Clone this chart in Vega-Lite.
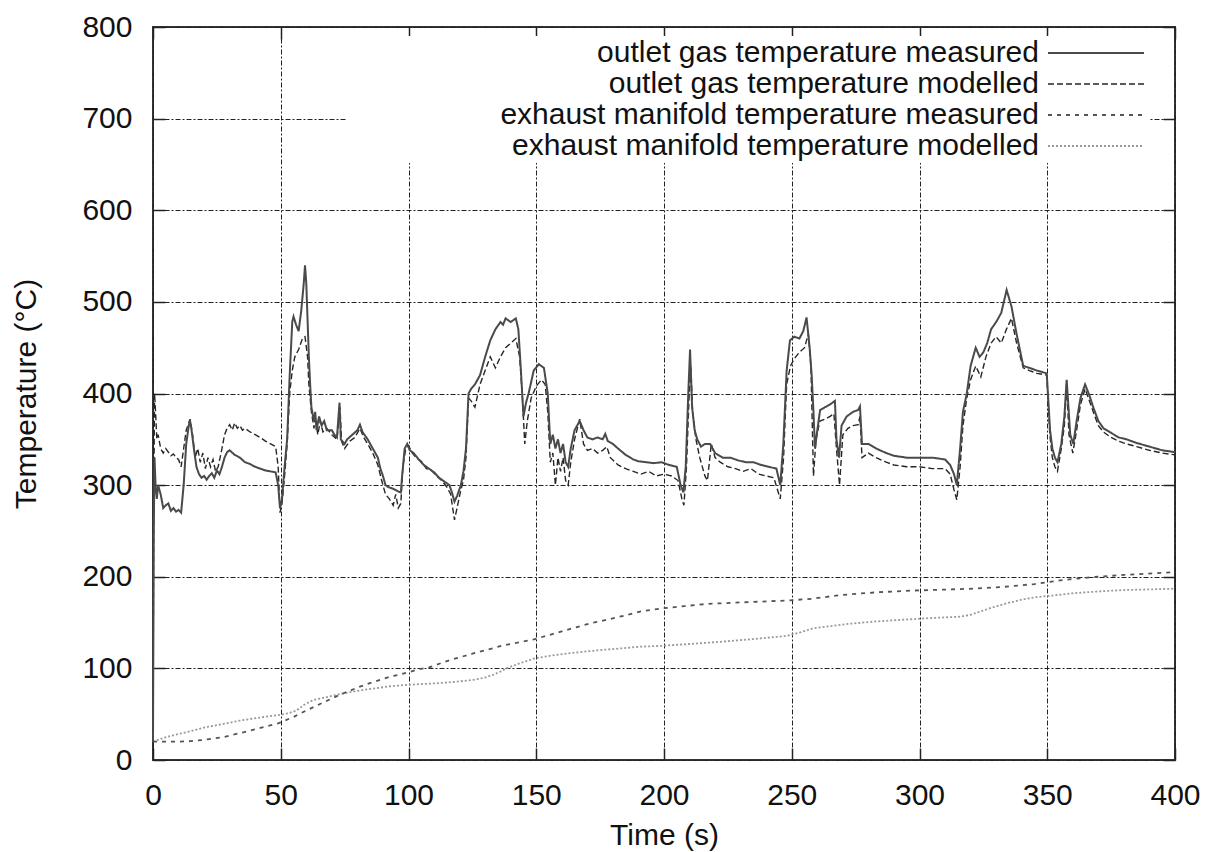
{
  "$schema": "https://vega.github.io/schema/vega-lite/v6.json",
  "width": 1022,
  "height": 733,
  "autosize": {"type": "none"},
  "padding": {"left": 153, "top": 27, "right": 34, "bottom": 92},
  "background": "white",
  "config": {
    "font": "Liberation Sans",
    "view": {"stroke": "#333", "strokeWidth": 2},
    "legend": {
      "orient": "none",
      "legendX": 194,
      "legendY": 9,
      "fillColor": "white",
      "padding": 2,
      "labelFont": "Liberation Sans",
      "labelFontSize": 30,
      "labelColor": "#111",
      "labelAlign": "right",
      "labelOffset": -72,
      "labelLimit": 1000,
      "symbolOffset": 732,
      "symbolSize": 576,
      "rowPadding": 1
    }
  },
  "datasets": {
    "temps": [
      {"s":"ed","t":0,"v":20},{"s":"ed","t":4,"v":24},{"s":"ed","t":8,"v":27},{"s":"ed","t":14,"v":31},{"s":"ed","t":21,"v":36},{"s":"ed","t":27,"v":39},{"s":"ed","t":34,"v":43},{"s":"ed","t":41,"v":46},{"s":"ed","t":49,"v":49},{"s":"ed","t":53,"v":51},{"s":"ed","t":56.2,"v":54},{"s":"ed","t":59,"v":60},{"s":"ed","t":62.7,"v":65.5},{"s":"ed","t":67,"v":68},{"s":"ed","t":73.2,"v":72},{"s":"ed","t":80,"v":75.5},{"s":"ed","t":86.2,"v":78},{"s":"ed","t":93,"v":80.5},{"s":"ed","t":99.3,"v":82},{"s":"ed","t":106,"v":83},{"s":"ed","t":112.3,"v":84},{"s":"ed","t":119,"v":85.5},{"s":"ed","t":125.4,"v":87.5},{"s":"ed","t":130,"v":90},{"s":"ed","t":133.2,"v":93},{"s":"ed","t":136,"v":96.5},{"s":"ed","t":138.4,"v":100},{"s":"ed","t":143,"v":105},{"s":"ed","t":149.5,"v":111},{"s":"ed","t":156,"v":114},{"s":"ed","t":164.5,"v":117},{"s":"ed","t":175,"v":120},{"s":"ed","t":184.1,"v":122},{"s":"ed","t":190.6,"v":123.7},{"s":"ed","t":198.4,"v":124.5},{"s":"ed","t":210,"v":126.6},{"s":"ed","t":222,"v":129},{"s":"ed","t":235,"v":132},{"s":"ed","t":248,"v":135.4},{"s":"ed","t":253,"v":139},{"s":"ed","t":258.4,"v":143.8},{"s":"ed","t":265,"v":146},{"s":"ed","t":272,"v":148.5},{"s":"ed","t":281.9,"v":151},{"s":"ed","t":290,"v":152.5},{"s":"ed","t":296.3,"v":153.6},{"s":"ed","t":305,"v":155},{"s":"ed","t":315.9,"v":156.4},{"s":"ed","t":320,"v":158.5},{"s":"ed","t":323.7,"v":162},{"s":"ed","t":328,"v":166},{"s":"ed","t":334.1,"v":171},{"s":"ed","t":340,"v":175},{"s":"ed","t":345.2,"v":177.6},{"s":"ed","t":352,"v":179.5},{"s":"ed","t":360.2,"v":182},{"s":"ed","t":370,"v":184},{"s":"ed","t":380,"v":185.5},{"s":"ed","t":392.8,"v":186.4},{"s":"ed","t":400,"v":187},
      {"s":"em","t":0,"v":20},{"s":"em","t":5,"v":20},{"s":"em","t":10,"v":20},{"s":"em","t":14.5,"v":20.5},{"s":"em","t":20,"v":22},{"s":"em","t":27.5,"v":25},{"s":"em","t":35,"v":30},{"s":"em","t":42,"v":35},{"s":"em","t":49,"v":40},{"s":"em","t":55,"v":47},{"s":"em","t":60,"v":54},{"s":"em","t":66,"v":62},{"s":"em","t":73,"v":71},{"s":"em","t":80,"v":79},{"s":"em","t":86,"v":85},{"s":"em","t":93,"v":91},{"s":"em","t":99,"v":95},{"s":"em","t":104,"v":99},{"s":"em","t":108,"v":101},{"s":"em","t":115,"v":108},{"s":"em","t":125,"v":116},{"s":"em","t":137,"v":125},{"s":"em","t":149.5,"v":132},{"s":"em","t":157,"v":138},{"s":"em","t":164.5,"v":144},{"s":"em","t":171,"v":149},{"s":"em","t":177.6,"v":153},{"s":"em","t":185,"v":158},{"s":"em","t":190.6,"v":162},{"s":"em","t":199.7,"v":165.6},{"s":"em","t":208,"v":168},{"s":"em","t":216.7,"v":170.3},{"s":"em","t":230,"v":172},{"s":"em","t":248,"v":174},{"s":"em","t":258,"v":176},{"s":"em","t":268.9,"v":180},{"s":"em","t":283,"v":183},{"s":"em","t":296.3,"v":184.8},{"s":"em","t":310,"v":186},{"s":"em","t":321,"v":187},{"s":"em","t":333,"v":189},{"s":"em","t":345,"v":192},{"s":"em","t":355,"v":196},{"s":"em","t":366.7,"v":199.4},{"s":"em","t":380,"v":202},{"s":"em","t":392.8,"v":204},{"s":"em","t":400,"v":205},
      {"s":"od","t":0,"v":20},{"s":"od","t":0.3,"v":280},{"s":"od","t":0.6,"v":400},{"s":"od","t":1,"v":380},{"s":"od","t":1.5,"v":350},{"s":"od","t":2,"v":355},{"s":"od","t":3,"v":340},{"s":"od","t":4,"v":335},{"s":"od","t":5,"v":340},{"s":"od","t":6,"v":336},{"s":"od","t":7,"v":332},{"s":"od","t":8,"v":334},{"s":"od","t":9,"v":330},{"s":"od","t":10,"v":328},{"s":"od","t":11,"v":320},{"s":"od","t":12,"v":340},{"s":"od","t":13,"v":360},{"s":"od","t":14.5,"v":372},{"s":"od","t":15.5,"v":355},{"s":"od","t":16.5,"v":330},{"s":"od","t":17.5,"v":340},{"s":"od","t":18.5,"v":325},{"s":"od","t":19.5,"v":335},{"s":"od","t":20.5,"v":318},{"s":"od","t":21.5,"v":330},{"s":"od","t":22.5,"v":320},{"s":"od","t":23.5,"v":328},{"s":"od","t":24.5,"v":315},{"s":"od","t":25.5,"v":320},{"s":"od","t":27,"v":340},{"s":"od","t":28,"v":355},{"s":"od","t":29,"v":362},{"s":"od","t":30,"v":366},{"s":"od","t":31,"v":360},{"s":"od","t":32,"v":368},{"s":"od","t":33,"v":362},{"s":"od","t":34,"v":365},{"s":"od","t":35,"v":360},{"s":"od","t":36,"v":362},{"s":"od","t":38,"v":358},{"s":"od","t":40,"v":355},{"s":"od","t":42,"v":352},{"s":"od","t":44,"v":348},{"s":"od","t":46,"v":345},{"s":"od","t":48,"v":342},{"s":"od","t":49,"v":320},{"s":"od","t":49.7,"v":270},{"s":"od","t":50.5,"v":280},{"s":"od","t":51.5,"v":310},{"s":"od","t":52.5,"v":345},{"s":"od","t":53.5,"v":400},{"s":"od","t":54.5,"v":425},{"s":"od","t":55.5,"v":440},{"s":"od","t":57,"v":448},{"s":"od","t":58.5,"v":460},{"s":"od","t":59.5,"v":462},{"s":"od","t":60.5,"v":440},{"s":"od","t":61,"v":410},{"s":"od","t":62,"v":380},{"s":"od","t":63,"v":362},{"s":"od","t":63.5,"v":375},{"s":"od","t":64.5,"v":355},{"s":"od","t":65.5,"v":370},{"s":"od","t":66.5,"v":358},{"s":"od","t":68,"v":362},{"s":"od","t":70,"v":355},{"s":"od","t":72,"v":350},{"s":"od","t":73.2,"v":385},{"s":"od","t":73.8,"v":348},{"s":"od","t":75,"v":340},{"s":"od","t":77,"v":348},{"s":"od","t":79,"v":352},{"s":"od","t":81,"v":362},{"s":"od","t":82.5,"v":352},{"s":"od","t":84,"v":345},{"s":"od","t":86,"v":335},{"s":"od","t":88,"v":322},{"s":"od","t":89.5,"v":305},{"s":"od","t":91,"v":290},{"s":"od","t":92.5,"v":285},{"s":"od","t":94,"v":278},{"s":"od","t":95,"v":290},{"s":"od","t":96,"v":275},{"s":"od","t":97,"v":280},{"s":"od","t":97.8,"v":320},{"s":"od","t":98.8,"v":338},{"s":"od","t":100,"v":343},{"s":"od","t":101.5,"v":335},{"s":"od","t":103,"v":330},{"s":"od","t":105,"v":326},{"s":"od","t":107,"v":318},{"s":"od","t":109,"v":316},{"s":"od","t":111,"v":310},{"s":"od","t":113,"v":305},{"s":"od","t":115,"v":298},{"s":"od","t":116.5,"v":290},{"s":"od","t":118,"v":262},{"s":"od","t":119,"v":275},{"s":"od","t":120.5,"v":295},{"s":"od","t":121.5,"v":305},{"s":"od","t":122.5,"v":330},{"s":"od","t":123.5,"v":395},{"s":"od","t":124.5,"v":392},{"s":"od","t":126,"v":385},{"s":"od","t":128,"v":410},{"s":"od","t":130,"v":425},{"s":"od","t":132,"v":440},{"s":"od","t":134,"v":428},{"s":"od","t":136,"v":440},{"s":"od","t":138,"v":450},{"s":"od","t":140,"v":455},{"s":"od","t":142,"v":460},{"s":"od","t":143.5,"v":440},{"s":"od","t":144.5,"v":400},{"s":"od","t":145.5,"v":345},{"s":"od","t":146.5,"v":370},{"s":"od","t":148,"v":395},{"s":"od","t":150,"v":408},{"s":"od","t":152,"v":415},{"s":"od","t":153.5,"v":410},{"s":"od","t":154.5,"v":380},{"s":"od","t":155.5,"v":325},{"s":"od","t":156.5,"v":335},{"s":"od","t":157.5,"v":300},{"s":"od","t":158.5,"v":330},{"s":"od","t":159.5,"v":315},{"s":"od","t":160.5,"v":330},{"s":"od","t":161.5,"v":305},{"s":"od","t":162.5,"v":300},{"s":"od","t":163.5,"v":325},{"s":"od","t":165,"v":350},{"s":"od","t":167,"v":372},{"s":"od","t":168.5,"v":345},{"s":"od","t":170,"v":338},{"s":"od","t":172,"v":340},{"s":"od","t":174,"v":335},{"s":"od","t":176,"v":338},{"s":"od","t":177.6,"v":342},{"s":"od","t":179,"v":330},{"s":"od","t":182,"v":322},{"s":"od","t":185,"v":318},{"s":"od","t":188,"v":315},{"s":"od","t":191,"v":312},{"s":"od","t":194,"v":315},{"s":"od","t":197,"v":310},{"s":"od","t":200,"v":312},{"s":"od","t":203,"v":310},{"s":"od","t":205.5,"v":305},{"s":"od","t":207,"v":285},{"s":"od","t":207.8,"v":278},{"s":"od","t":208.8,"v":320},{"s":"od","t":209.8,"v":395},{"s":"od","t":210.5,"v":430},{"s":"od","t":211.2,"v":380},{"s":"od","t":212.5,"v":350},{"s":"od","t":214,"v":330},{"s":"od","t":216,"v":310},{"s":"od","t":217,"v":305},{"s":"od","t":218.5,"v":345},{"s":"od","t":220,"v":330},{"s":"od","t":222,"v":325},{"s":"od","t":225,"v":320},{"s":"od","t":228,"v":318},{"s":"od","t":231,"v":315},{"s":"od","t":234,"v":318},{"s":"od","t":237,"v":312},{"s":"od","t":240,"v":310},{"s":"od","t":243,"v":308},{"s":"od","t":245.5,"v":285},{"s":"od","t":246.8,"v":330},{"s":"od","t":248,"v":410},{"s":"od","t":249.5,"v":430},{"s":"od","t":251,"v":438},{"s":"od","t":253,"v":445},{"s":"od","t":255,"v":450},{"s":"od","t":256.5,"v":465},{"s":"od","t":257.5,"v":430},{"s":"od","t":258,"v":370},{"s":"od","t":258.5,"v":310},{"s":"od","t":259.5,"v":350},{"s":"od","t":261,"v":370},{"s":"od","t":263,"v":372},{"s":"od","t":265,"v":375},{"s":"od","t":266.5,"v":378},{"s":"od","t":267.5,"v":340},{"s":"od","t":268.7,"v":300},{"s":"od","t":270,"v":355},{"s":"od","t":272,"v":362},{"s":"od","t":274,"v":365},{"s":"od","t":276,"v":366},{"s":"od","t":276.7,"v":375},{"s":"od","t":277.5,"v":330},{"s":"od","t":280,"v":335},{"s":"od","t":283,"v":330},{"s":"od","t":287,"v":325},{"s":"od","t":290,"v":322},{"s":"od","t":295,"v":320},{"s":"od","t":300,"v":320},{"s":"od","t":305,"v":318},{"s":"od","t":310,"v":318},{"s":"od","t":312,"v":312},{"s":"od","t":313.5,"v":295},{"s":"od","t":314.6,"v":284},{"s":"od","t":315.9,"v":320},{"s":"od","t":317,"v":365},{"s":"od","t":318.5,"v":395},{"s":"od","t":320,"v":415},{"s":"od","t":322,"v":430},{"s":"od","t":324,"v":418},{"s":"od","t":326,"v":440},{"s":"od","t":328,"v":455},{"s":"od","t":330,"v":462},{"s":"od","t":332,"v":455},{"s":"od","t":334,"v":470},{"s":"od","t":336,"v":482},{"s":"od","t":338,"v":455},{"s":"od","t":340.6,"v":428},{"s":"od","t":343,"v":425},{"s":"od","t":346,"v":422},{"s":"od","t":349.8,"v":420},{"s":"od","t":351,"v":355},{"s":"od","t":352,"v":330},{"s":"od","t":353,"v":320},{"s":"od","t":354,"v":315},{"s":"od","t":355.5,"v":340},{"s":"od","t":356.7,"v":365},{"s":"od","t":357.6,"v":410},{"s":"od","t":358.5,"v":355},{"s":"od","t":360,"v":335},{"s":"od","t":361.5,"v":360},{"s":"od","t":363,"v":388},{"s":"od","t":364.8,"v":405},{"s":"od","t":366.5,"v":392},{"s":"od","t":368,"v":380},{"s":"od","t":370,"v":365},{"s":"od","t":372,"v":358},{"s":"od","t":375,"v":352},{"s":"od","t":378,"v":348},{"s":"od","t":381,"v":345},{"s":"od","t":385,"v":342},{"s":"od","t":390,"v":338},{"s":"od","t":395,"v":335},{"s":"od","t":400,"v":333},
      {"s":"om","t":0,"v":20},{"s":"om","t":0.3,"v":250},{"s":"om","t":0.6,"v":330},{"s":"om","t":1,"v":300},{"s":"om","t":1.5,"v":285},{"s":"om","t":2,"v":300},{"s":"om","t":3,"v":290},{"s":"om","t":4,"v":275},{"s":"om","t":5,"v":278},{"s":"om","t":6,"v":280},{"s":"om","t":7,"v":272},{"s":"om","t":8,"v":275},{"s":"om","t":9,"v":271},{"s":"om","t":10,"v":273},{"s":"om","t":11,"v":270},{"s":"om","t":12,"v":300},{"s":"om","t":13,"v":345},{"s":"om","t":14,"v":365},{"s":"om","t":14.5,"v":370},{"s":"om","t":15,"v":362},{"s":"om","t":16,"v":340},{"s":"om","t":17,"v":320},{"s":"om","t":18,"v":312},{"s":"om","t":19,"v":308},{"s":"om","t":20,"v":310},{"s":"om","t":21,"v":306},{"s":"om","t":22,"v":310},{"s":"om","t":23,"v":313},{"s":"om","t":24,"v":308},{"s":"om","t":25,"v":316},{"s":"om","t":26,"v":312},{"s":"om","t":27,"v":320},{"s":"om","t":28,"v":330},{"s":"om","t":29,"v":336},{"s":"om","t":30,"v":338},{"s":"om","t":32,"v":333},{"s":"om","t":34,"v":330},{"s":"om","t":36,"v":325},{"s":"om","t":38,"v":323},{"s":"om","t":40,"v":320},{"s":"om","t":42,"v":318},{"s":"om","t":44,"v":316},{"s":"om","t":46,"v":315},{"s":"om","t":48,"v":314},{"s":"om","t":49,"v":300},{"s":"om","t":49.7,"v":275},{"s":"om","t":50.5,"v":285},{"s":"om","t":51.5,"v":320},{"s":"om","t":52.5,"v":350},{"s":"om","t":53.5,"v":420},{"s":"om","t":54.5,"v":478},{"s":"om","t":55,"v":484},{"s":"om","t":56,"v":475},{"s":"om","t":57,"v":468},{"s":"om","t":58,"v":490},{"s":"om","t":59,"v":520},{"s":"om","t":59.5,"v":540},{"s":"om","t":60,"v":520},{"s":"om","t":60.5,"v":480},{"s":"om","t":61,"v":440},{"s":"om","t":61.5,"v":410},{"s":"om","t":62,"v":385},{"s":"om","t":63,"v":370},{"s":"om","t":63.5,"v":380},{"s":"om","t":64,"v":360},{"s":"om","t":65,"v":375},{"s":"om","t":66,"v":365},{"s":"om","t":67,"v":370},{"s":"om","t":68,"v":360},{"s":"om","t":70,"v":360},{"s":"om","t":71,"v":355},{"s":"om","t":72,"v":352},{"s":"om","t":73,"v":390},{"s":"om","t":73.5,"v":350},{"s":"om","t":75,"v":345},{"s":"om","t":76,"v":350},{"s":"om","t":78,"v":355},{"s":"om","t":80,"v":360},{"s":"om","t":81,"v":366},{"s":"om","t":82,"v":358},{"s":"om","t":84,"v":350},{"s":"om","t":86,"v":340},{"s":"om","t":88,"v":330},{"s":"om","t":89,"v":318},{"s":"om","t":90,"v":310},{"s":"om","t":91,"v":300},{"s":"om","t":92,"v":298},{"s":"om","t":94,"v":296},{"s":"om","t":96,"v":293},{"s":"om","t":97,"v":292},{"s":"om","t":97.5,"v":310},{"s":"om","t":98.5,"v":340},{"s":"om","t":99.5,"v":345},{"s":"om","t":100.5,"v":338},{"s":"om","t":102,"v":335},{"s":"om","t":104,"v":328},{"s":"om","t":106,"v":322},{"s":"om","t":108,"v":318},{"s":"om","t":110,"v":314},{"s":"om","t":112,"v":308},{"s":"om","t":114,"v":304},{"s":"om","t":116,"v":300},{"s":"om","t":117,"v":292},{"s":"om","t":118,"v":282},{"s":"om","t":119,"v":288},{"s":"om","t":120.5,"v":300},{"s":"om","t":121.5,"v":315},{"s":"om","t":122.5,"v":340},{"s":"om","t":123.5,"v":400},{"s":"om","t":124.5,"v":405},{"s":"om","t":126,"v":410},{"s":"om","t":128,"v":420},{"s":"om","t":130,"v":440},{"s":"om","t":132,"v":458},{"s":"om","t":134,"v":470},{"s":"om","t":136,"v":478},{"s":"om","t":137,"v":475},{"s":"om","t":138,"v":482},{"s":"om","t":140,"v":478},{"s":"om","t":142,"v":482},{"s":"om","t":143,"v":470},{"s":"om","t":144,"v":425},{"s":"om","t":145,"v":375},{"s":"om","t":146,"v":390},{"s":"om","t":147,"v":400},{"s":"om","t":149,"v":425},{"s":"om","t":151,"v":432},{"s":"om","t":153,"v":428},{"s":"om","t":154.5,"v":400},{"s":"om","t":155.5,"v":345},{"s":"om","t":156.5,"v":355},{"s":"om","t":157.5,"v":340},{"s":"om","t":158.5,"v":350},{"s":"om","t":159.5,"v":335},{"s":"om","t":160.5,"v":345},{"s":"om","t":161.5,"v":325},{"s":"om","t":162.5,"v":320},{"s":"om","t":163.5,"v":340},{"s":"om","t":165,"v":360},{"s":"om","t":167,"v":370},{"s":"om","t":168.5,"v":360},{"s":"om","t":170,"v":352},{"s":"om","t":172,"v":350},{"s":"om","t":174,"v":352},{"s":"om","t":176,"v":350},{"s":"om","t":177,"v":356},{"s":"om","t":178,"v":348},{"s":"om","t":180,"v":345},{"s":"om","t":182,"v":340},{"s":"om","t":185,"v":333},{"s":"om","t":188,"v":328},{"s":"om","t":190,"v":326},{"s":"om","t":193,"v":325},{"s":"om","t":196,"v":324},{"s":"om","t":199,"v":325},{"s":"om","t":202,"v":322},{"s":"om","t":205,"v":320},{"s":"om","t":206.5,"v":300},{"s":"om","t":207.6,"v":292},{"s":"om","t":208.5,"v":320},{"s":"om","t":209.5,"v":400},{"s":"om","t":210.2,"v":448},{"s":"om","t":211,"v":385},{"s":"om","t":212,"v":360},{"s":"om","t":213,"v":350},{"s":"om","t":214.5,"v":342},{"s":"om","t":216,"v":345},{"s":"om","t":218,"v":345},{"s":"om","t":220,"v":335},{"s":"om","t":223,"v":330},{"s":"om","t":226,"v":330},{"s":"om","t":229,"v":327},{"s":"om","t":232,"v":325},{"s":"om","t":235,"v":325},{"s":"om","t":238,"v":322},{"s":"om","t":241,"v":320},{"s":"om","t":244,"v":318},{"s":"om","t":245.5,"v":300},{"s":"om","t":246.7,"v":345},{"s":"om","t":248,"v":425},{"s":"om","t":249.3,"v":458},{"s":"om","t":251,"v":462},{"s":"om","t":253,"v":460},{"s":"om","t":254.5,"v":468},{"s":"om","t":255.8,"v":483},{"s":"om","t":257,"v":450},{"s":"om","t":257.8,"v":420},{"s":"om","t":258.5,"v":380},{"s":"om","t":259.1,"v":340},{"s":"om","t":260,"v":360},{"s":"om","t":261.1,"v":382},{"s":"om","t":263,"v":385},{"s":"om","t":265,"v":388},{"s":"om","t":266.9,"v":392},{"s":"om","t":267.5,"v":350},{"s":"om","t":268.5,"v":330},{"s":"om","t":269.5,"v":365},{"s":"om","t":271.5,"v":375},{"s":"om","t":274,"v":380},{"s":"om","t":276,"v":382},{"s":"om","t":276.7,"v":386},{"s":"om","t":277.5,"v":345},{"s":"om","t":280,"v":345},{"s":"om","t":283,"v":340},{"s":"om","t":287,"v":335},{"s":"om","t":290,"v":332},{"s":"om","t":295,"v":330},{"s":"om","t":300,"v":330},{"s":"om","t":305,"v":330},{"s":"om","t":310,"v":328},{"s":"om","t":312,"v":322},{"s":"om","t":313.5,"v":312},{"s":"om","t":314.6,"v":300},{"s":"om","t":315.9,"v":340},{"s":"om","t":317,"v":380},{"s":"om","t":318.5,"v":400},{"s":"om","t":320,"v":430},{"s":"om","t":322,"v":450},{"s":"om","t":323.5,"v":440},{"s":"om","t":325,"v":445},{"s":"om","t":326.5,"v":455},{"s":"om","t":328,"v":470},{"s":"om","t":330,"v":478},{"s":"om","t":332,"v":488},{"s":"om","t":334.1,"v":513},{"s":"om","t":336,"v":495},{"s":"om","t":338,"v":465},{"s":"om","t":340.6,"v":430},{"s":"om","t":343,"v":428},{"s":"om","t":346,"v":425},{"s":"om","t":349.8,"v":422},{"s":"om","t":351.1,"v":360},{"s":"om","t":352,"v":340},{"s":"om","t":353,"v":330},{"s":"om","t":354,"v":325},{"s":"om","t":355.5,"v":345},{"s":"om","t":356.7,"v":375},{"s":"om","t":357.6,"v":415},{"s":"om","t":359,"v":355},{"s":"om","t":360.2,"v":345},{"s":"om","t":361.5,"v":370},{"s":"om","t":363,"v":395},{"s":"om","t":364.8,"v":410},{"s":"om","t":366.5,"v":398},{"s":"om","t":368,"v":385},{"s":"om","t":370,"v":370},{"s":"om","t":372,"v":362},{"s":"om","t":375,"v":357},{"s":"om","t":378,"v":352},{"s":"om","t":381,"v":350},{"s":"om","t":385,"v":346},{"s":"om","t":390,"v":342},{"s":"om","t":395,"v":338},{"s":"om","t":400,"v":336}
    ]
  },
  "data": {"name": "temps"},
  "resolve": {"axis": {"x": "independent", "y": "independent"}},
  "layer": [
    {
      "description": "inward ticks mirrored on the top and right edges of the frame",
      "mark": {"type": "line", "strokeOpacity": 0},
      "encoding": {
        "x": {"field": "t", "type": "quantitative", "scale": {"domain": [0, 400], "nice": false},
          "axis": {"orient": "top", "title": null, "labels": false, "grid": false, "values": [0, 50, 100, 150, 200, 250, 300, 350, 400], "offset": -12, "tickSize": 12, "tickColor": "#222", "tickWidth": 1.5, "domain": false}},
        "y": {"field": "v", "type": "quantitative", "scale": {"domain": [0, 800], "nice": false},
          "axis": {"orient": "right", "title": null, "labels": false, "grid": false, "values": [0, 100, 200, 300, 400, 500, 600, 700, 800], "offset": -12, "tickSize": 12, "tickColor": "#222", "tickWidth": 1.5, "domain": false}},
        "detail": {"field": "s", "type": "nominal"}
      }
    },
    {
      "mark": {"type": "line"},
      "encoding": {
        "x": {"field": "t", "type": "quantitative",
          "axis": {"title": "Time (s)", "values": [0, 50, 100, 150, 200, 250, 300, 350, 400], "grid": true, "gridColor": "#222", "gridDash": [5, 2, 2, 2], "gridWidth": 1, "offset": -12, "ticks": true, "tickSize": 12, "tickColor": "#222", "tickWidth": 1.5, "domain": false, "labelFlush": false, "labelOverlap": false, "labelPadding": 20, "labelFontSize": 30, "labelColor": "#111", "titleFontSize": 30, "titleFontWeight": "normal", "titleColor": "#111", "titlePadding": 10}},
        "y": {"field": "v", "type": "quantitative",
          "axis": {"title": "Temperature (°C)", "values": [0, 100, 200, 300, 400, 500, 600, 700, 800], "grid": true, "gridColor": "#222", "gridDash": [5, 2, 2, 2], "gridWidth": 1, "offset": -12, "ticks": true, "tickSize": 12, "tickColor": "#222", "tickWidth": 1.5, "domain": false, "labelFlush": false, "labelOverlap": false, "labelPadding": 21, "labelFontSize": 30, "labelColor": "#111", "titleFontSize": 30, "titleFontWeight": "normal", "titleColor": "#111", "titlePadding": 40}},
        "color": {"field": "s", "type": "nominal",
          "scale": {"domain": ["om", "od", "em", "ed"], "range": ["#4a4a4a", "#262626", "#555555", "#9a9a9a"]},
          "legend": {"title": null, "symbolType": "M-4,0H4", "labelExpr": "{'om': 'outlet gas temperature measured', 'od': 'outlet gas temperature modelled', 'em': 'exhaust manifold temperature measured', 'ed': 'exhaust manifold temperature modelled'}[datum.value]"}},
        "strokeDash": {"field": "s", "type": "nominal",
          "scale": {"domain": ["om", "od", "em", "ed"], "range": [[1, 0], [6, 3], [4, 5], [2, 2]]},
          "legend": {"title": null, "symbolType": "M-4,0H4", "labelExpr": "{'om': 'outlet gas temperature measured', 'od': 'outlet gas temperature modelled', 'em': 'exhaust manifold temperature measured', 'ed': 'exhaust manifold temperature modelled'}[datum.value]"}},
        "strokeWidth": {"field": "s", "type": "nominal",
          "scale": {"type": "ordinal", "domain": ["om", "od", "em", "ed"], "range": [2, 1.4, 1.8, 1.8]},
          "legend": {"title": null, "symbolType": "M-4,0H4", "labelExpr": "{'om': 'outlet gas temperature measured', 'od': 'outlet gas temperature modelled', 'em': 'exhaust manifold temperature measured', 'ed': 'exhaust manifold temperature modelled'}[datum.value]"}}
      }
    }
  ]
}
